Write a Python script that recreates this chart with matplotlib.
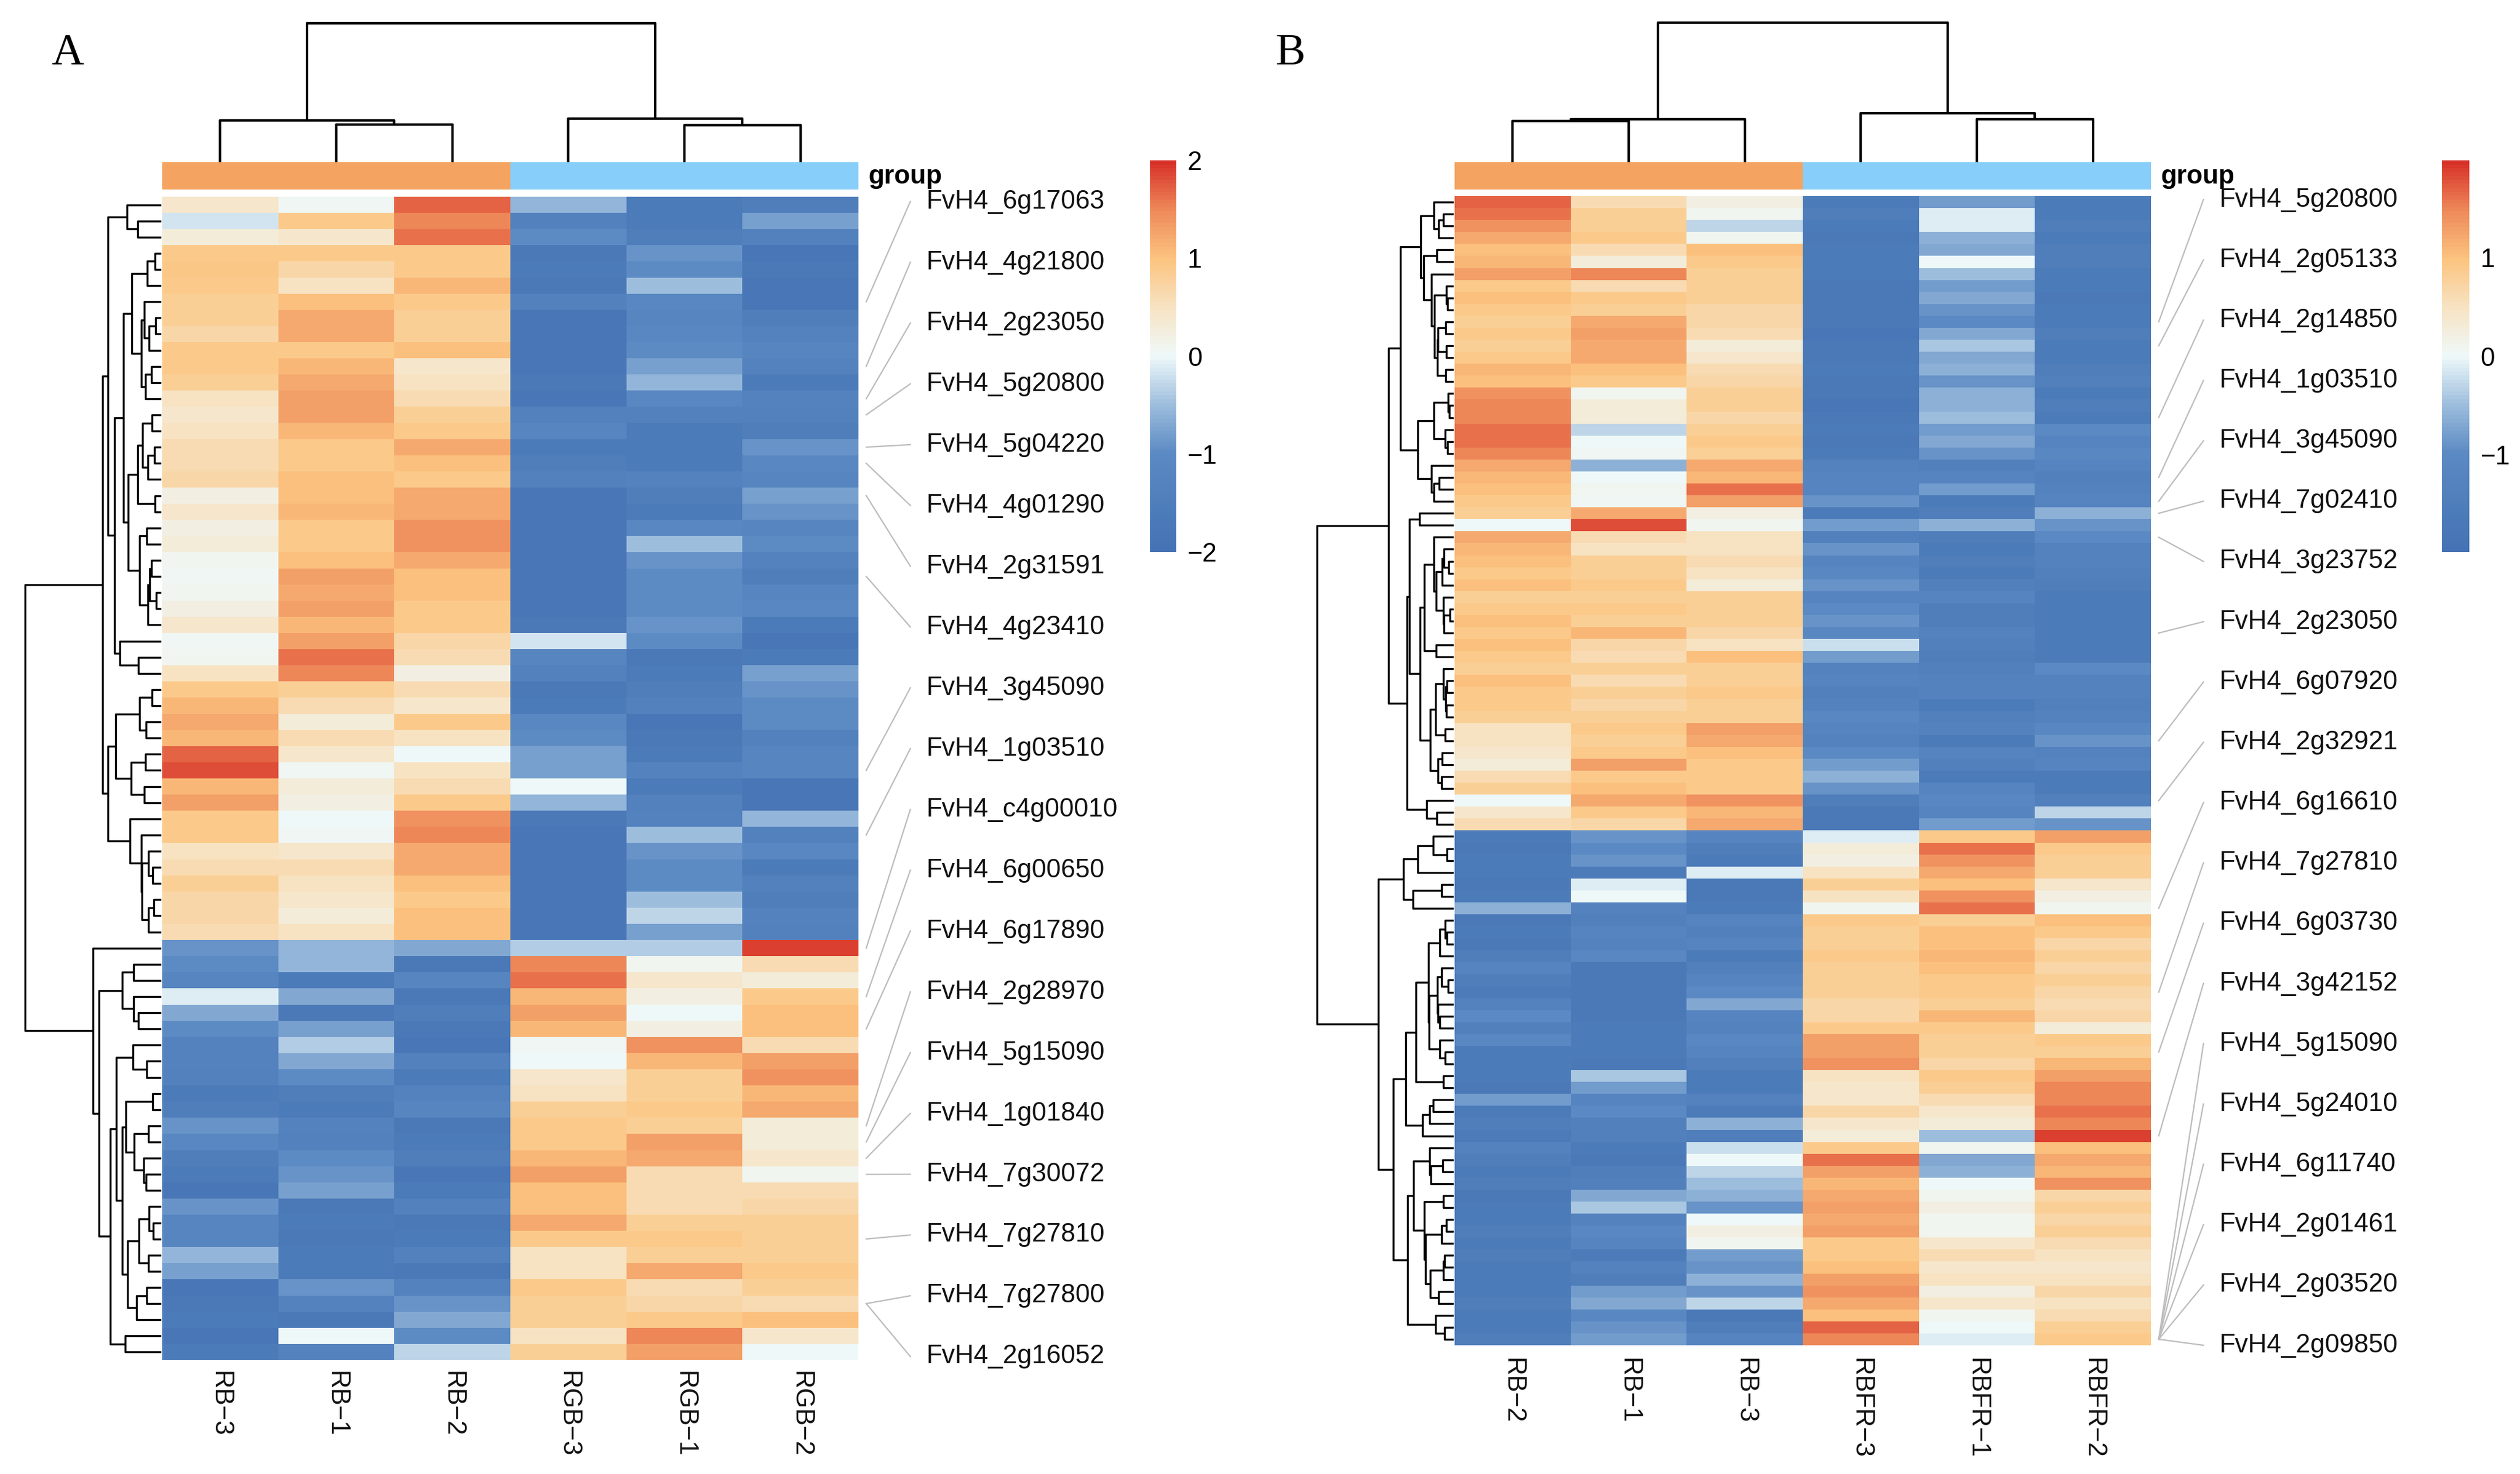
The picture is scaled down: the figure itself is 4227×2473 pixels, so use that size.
import numpy as np
import matplotlib
matplotlib.use('Agg')
import matplotlib.pyplot as plt
from matplotlib.colors import LinearSegmentedColormap, ListedColormap

plt.rcParams['font.family'] = ['Liberation Sans', 'DejaVu Sans']

W, H = 4227, 2473

# =========================
# DATA - panel A (rows top to bottom, as shown)
# =========================
a_samples = ['RB\u22123', 'RB\u22121', 'RB\u22122', 'RGB\u22123', 'RGB\u22121', 'RGB\u22122']
a_groups = [0, 0, 0, 1, 1, 1]

a_rb3 = [0.4, -0.2, 0.3, 0.9, 0.95, 0.9, 0.8, 0.8, 0.7, 0.9,
         0.9, 0.8, 0.5, 0.4, 0.5, 0.6, 0.6, 0.7, 0.2, 0.4,
         0.2, 0.3, 0.1, 0.05, 0.1, 0.2, 0.4, 0.05, 0.1, 0.5,
         0.9, 1.1, 1.2, 1.1, 1.7, 1.8, 1.1, 1.3, 0.9, 0.9,
         0.5, 0.6, 0.8, 0.7, 0.7, 0.6,
         -0.9, -1.0, -1.2, -0.1, -0.7, -1.0, -1.3, -1.3, -1.4, -1.6,
         -1.5, -0.9, -1.1, -1.5, -1.6, -1.8, -0.9, -1.2, -1.2, -0.6,
         -0.8, -1.8, -1.7, -1.6, -1.8, -1.6]
a_rb1 = [0.05, 0.9, 0.4, 0.9, 0.7, 0.5, 1.0, 1.2, 1.2, 0.9,
         1.1, 1.2, 1.3, 1.3, 1.1, 0.9, 0.9, 1.0, 1.0, 1.1,
         0.9, 0.9, 1.0, 1.3, 1.2, 1.3, 1.1, 1.3, 1.6, 1.5,
         0.8, 0.6, 0.3, 0.6, 0.4, 0.05, 0.3, 0.2, 0.0, 0.05,
         0.4, 0.6, 0.5, 0.4, 0.3, 0.5,
         -0.6, -0.6, -1.6, -0.7, -1.7, -0.8, -0.4, -0.7, -1.0, -1.5,
         -1.6, -1.3, -1.4, -1.0, -0.9, -0.8, -1.7, -1.6, -1.7, -1.6,
         -1.6, -0.9, -1.3, -1.7, 0.0, -1.3]
a_rb2 = [1.7, 1.5, 1.6, 0.9, 0.9, 1.1, 0.9, 0.8, 0.8, 1.0,
         0.4, 0.5, 0.6, 0.8, 0.9, 1.2, 1.0, 0.9, 1.2, 1.2,
         1.4, 1.4, 1.2, 1.0, 1.0, 0.9, 0.9, 0.7, 0.6, 0.2,
         0.6, 0.4, 0.9, 0.5, 0.0, 0.5, 0.6, 0.9, 1.4, 1.5,
         1.2, 1.2, 1.0, 0.9, 1.0, 1.0,
         -0.7, -1.7, -1.2, -1.7, -1.5, -1.7, -1.8, -1.4, -1.6, -1.3,
         -1.2, -1.7, -1.6, -1.5, -1.8, -1.6, -1.4, -1.7, -1.6, -1.4,
         -1.7, -1.3, -0.9, -0.7, -1.0, -0.3]
a_rgb3 = [-0.6, -1.4, -1.0, -1.7, -1.6, -1.7, -1.4, -1.8, -1.8, -1.8,
          -1.8, -1.7, -1.8, -1.4, -1.2, -1.6, -1.5, -1.4, -1.8, -1.8,
          -1.8, -1.8, -1.8, -1.8, -1.8, -1.8, -1.7, -0.2, -1.2, -1.4,
          -1.7, -1.6, -1.1, -1.0, -0.8, -0.8, 0.0, -0.6, -1.7, -1.8,
          -1.8, -1.8, -1.8, -1.8, -1.8, -1.8,
          -0.4, 1.5, 1.6, 1.1, 1.3, 1.1, 0.05, 0.0, 0.4, 0.5,
          0.8, 0.9, 0.9, 1.1, 1.3, 1.0, 1.0, 1.2, 0.9, 0.5,
          0.5, 0.9, 0.8, 0.8, 0.5, 0.8]
a_rgb1 = [-1.6, -1.6, -1.5, -0.9, -1.0, -0.5, -1.1, -1.2, -1.1, -1.0,
          -0.8, -0.6, -1.1, -1.4, -1.6, -1.6, -1.6, -1.3, -1.5, -1.6,
          -1.1, -0.5, -0.9, -1.0, -1.0, -1.0, -0.9, -1.0, -1.7, -1.6,
          -1.5, -1.4, -1.8, -1.7, -1.6, -1.3, -1.6, -1.4, -1.3, -0.5,
          -0.9, -1.0, -1.0, -0.5, -0.3, -0.8,
          -0.4, 0.1, 0.4, 0.2, 0.0, 0.2, 1.4, 1.1, 0.8, 0.8,
          0.9, 0.8, 1.3, 1.2, 0.6, 0.6, 0.6, 0.8, 0.9, 0.8,
          1.2, 0.6, 0.7, 0.9, 1.5, 1.3]
a_rgb2 = [-1.5, -0.8, -1.4, -1.8, -1.7, -1.8, -1.8, -1.5, -1.3, -1.2,
          -1.3, -1.6, -1.3, -1.4, -1.5, -0.9, -1.1, -1.2, -0.8, -0.9,
          -1.2, -1.0, -1.3, -1.5, -1.2, -1.1, -1.6, -1.8, -1.6, -0.8,
          -0.9, -1.0, -1.0, -1.4, -1.2, -1.2, -1.8, -1.8, -0.6, -1.4,
          -1.1, -1.6, -1.4, -1.5, -1.3, -1.4,
          1.9, 0.6, 0.3, 0.9, 1.0, 1.0, 0.6, 1.3, 1.4, 1.1,
          1.2, 0.3, 0.3, 0.4, 0.1, 0.6, 0.7, 0.8, 0.8, 0.8,
          0.9, 0.8, 0.6, 1.0, 0.4, 0.0]

a_genes = ['FvH4_6g17063', 'FvH4_4g21800', 'FvH4_2g23050', 'FvH4_5g20800',
           'FvH4_5g04220', 'FvH4_4g01290', 'FvH4_2g31591', 'FvH4_4g23410',
           'FvH4_3g45090', 'FvH4_1g03510', 'FvH4_c4g00010', 'FvH4_6g00650',
           'FvH4_6g17890', 'FvH4_2g28970', 'FvH4_5g15090', 'FvH4_1g01840',
           'FvH4_7g30072', 'FvH4_7g27810', 'FvH4_7g27800', 'FvH4_2g16052']
a_gene_rows = [6, 10, 12, 13, 15, 16, 18, 23, 35, 39,
               46, 49, 51, 57, 58, 59, 60, 64, 68, 68]

# =========================
# DATA - panel B
# =========================
b_samples = ['RB\u22122', 'RB\u22121', 'RB\u22123', 'RBFR\u22123', 'RBFR\u22121', 'RBFR\u22122']
b_groups = [0, 0, 0, 1, 1, 1]

b_rb2 = [1.7, 1.6, 1.4, 1.2, 1.0, 1.1, 1.3, 0.9, 1.0, 0.9,
         0.8, 0.9, 0.8, 0.9, 1.1, 1.0, 1.4, 1.5, 1.5, 1.6,
         1.6, 1.5, 1.2, 1.1, 1.0, 0.9, 0.8, 0.0, 1.2, 1.1,
         1.0, 0.9, 1.0, 0.8, 0.9, 1.0, 0.9, 1.0, 0.9, 0.8,
         1.0, 0.9, 0.9, 0.8, 0.5, 0.5, 0.4, 0.3, 0.6, 0.8,
         0.0, 0.4, 0.6, -1.6, -1.7, -1.6, -1.6, -1.7, -1.6, -0.6,
         -1.7, -1.6, -1.7, -1.5, -1.2, -1.5, -1.6, -1.3, -1.0, -1.4,
         -1.1, -1.6, -1.6, -1.6, -1.7, -0.8, -1.6, -1.5, -1.6, -1.3,
         -1.5, -1.6, -1.5, -1.7, -1.6, -1.6, -1.5, -1.6, -1.5, -1.6,
         -1.6, -1.6, -1.5, -1.6, -1.6, -1.5]
b_rb1 = [0.6, 0.8, 0.8, 0.9, 0.6, 0.3, 1.5, 0.6, 0.9, 0.8,
         1.2, 1.3, 1.2, 1.2, 1.0, 0.9, 0.1, 0.3, 0.3, -0.3,
         0.0, 0.05, -0.6, 0.0, 0.1, 0.05, 1.2, 1.8, 0.6, 0.5,
         0.8, 0.8, 0.9, 0.8, 0.9, 0.8, 1.1, 0.7, 0.6, 0.8,
         0.6, 0.8, 0.7, 0.8, 0.9, 0.8, 0.9, 1.3, 0.9, 1.0,
         1.2, 0.9, 0.7, -0.9, -1.0, -0.9, -1.6, -0.1, 0.0, -1.3,
         -1.4, -1.2, -1.3, -1.1, -1.7, -1.7, -1.7, -1.7, -1.7, -1.6,
         -1.6, -1.6, -1.7, -0.4, -0.8, -1.2, -1.0, -1.4, -1.4, -1.6,
         -1.7, -1.5, -1.4, -0.7, -0.4, -1.3, -1.1, -1.2, -1.6, -1.3,
         -1.5, -0.8, -0.7, -1.1, -0.9, -0.8]
b_rb3 = [0.2, 0.1, -0.3, 0.1, 1.0, 0.9, 0.8, 0.8, 0.8, 0.7,
         0.7, 0.6, 0.3, 0.4, 0.6, 0.7, 0.8, 0.8, 0.7, 0.8,
         0.9, 0.8, 1.2, 1.1, 1.6, 1.3, 0.2, 0.1, 0.5, 0.5,
         0.6, 0.5, 0.3, 0.8, 0.8, 0.8, 0.7, 0.5, 1.0, 0.8,
         0.8, 0.9, 0.8, 0.8, 1.3, 1.2, 1.0, 0.9, 0.9, 0.9,
         1.4, 1.1, 1.2, -1.2, -1.5, -1.6, -0.1, -1.7, -1.7, -1.6,
         -1.2, -1.4, -1.2, -1.6, -1.4, -1.2, -1.0, -0.7, -1.2, -1.3,
         -1.1, -1.2, -1.4, -1.6, -1.6, -1.3, -1.6, -0.6, -1.5, -0.2,
         0.0, -0.3, -0.5, -0.6, -0.9, 0.0, 0.2, 0.1, -0.8, -0.9,
         -0.6, -0.9, -0.3, -1.7, -1.5, -1.2]
b_rbfr3 = [-1.6, -1.5, -1.6, -1.7, -1.6, -1.6, -1.6, -1.7, -1.7, -1.7,
           -1.7, -1.8, -1.7, -1.7, -1.6, -1.7, -1.7, -1.8, -1.7, -1.6,
           -1.7, -1.6, -1.3, -1.2, -1.2, -0.9, -1.6, -0.8, -1.4, -0.9,
           -1.2, -1.1, -0.9, -1.2, -1.0, -0.9, -1.1, -0.2, -0.8, -1.3,
           -1.2, -1.4, -1.3, -1.1, -1.2, -1.3, -1.0, -0.8, -0.6, -0.9,
           -1.5, -1.7, -1.7, -0.1, 0.3, 0.2, 0.5, 0.8, 0.5, 0.1,
           0.9, 0.8, 0.8, 0.9, 0.8, 0.8, 0.8, 0.7, 0.7, 0.9,
           1.3, 1.3, 1.4, 0.5, 0.4, 0.4, 0.7, 0.4, 0.3, 0.9,
           1.6, 1.3, 1.1, 1.2, 1.3, 1.2, 1.3, 0.9, 0.9, 1.0,
           1.3, 1.4, 1.2, 1.0, 1.7, 1.5]
b_rbfr1 = [-0.8, -0.1, -0.1, -0.6, -0.7, 0.0, -0.5, -0.8, -0.7, -0.9,
           -1.0, -0.7, -0.4, -0.7, -0.6, -0.9, -0.6, -0.6, -0.5, -0.8,
           -0.7, -0.9, -1.4, -1.2, -0.8, -1.6, -1.5, -0.6, -1.5, -1.6,
           -1.5, -1.6, -1.4, -1.2, -1.5, -1.5, -1.3, -1.4, -1.5, -1.4,
           -1.3, -1.3, -1.6, -1.4, -1.3, -1.6, -1.2, -1.4, -1.6, -1.2,
           -1.1, -1.2, -0.8, 0.9, 1.6, 1.4, 1.2, 1.0, 1.4, 1.6,
           0.8, 1.0, 1.0, 1.1, 1.0, 0.9, 0.9, 0.8, 1.1, 0.9,
           0.8, 0.8, 0.7, 0.9, 0.8, 0.6, 0.4, 0.3, -0.5, 0.1,
           -0.7, -0.6, 0.0, 0.1, 0.2, 0.1, 0.1, 0.4, 0.6, 0.4,
           0.5, 0.2, 0.4, 0.1, 0.0, -0.1]
b_rbfr2 = [-1.6, -1.6, -1.5, -1.6, -1.5, -1.5, -1.6, -1.6, -1.7, -1.6,
           -1.6, -1.5, -1.6, -1.6, -1.5, -1.4, -1.6, -1.5, -1.6, -1.0,
           -1.2, -1.1, -1.2, -1.4, -1.3, -1.2, -0.6, -0.9, -1.0, -1.3,
           -1.3, -1.4, -1.5, -1.6, -1.6, -1.6, -1.6, -1.6, -1.6, -1.0,
           -1.3, -1.3, -1.4, -1.3, -1.1, -0.9, -1.3, -1.2, -1.6, -1.6,
           -1.4, -0.3, -0.9, 1.3, 0.9, 0.8, 0.8, 0.4, 0.2, 0.1,
           1.0, 0.9, 0.7, 0.8, 0.7, 0.8, 0.7, 0.6, 0.7, 0.3,
           0.9, 0.8, 1.1, 1.3, 1.5, 1.5, 1.6, 1.5, 1.9, 1.0,
           1.2, 1.1, 1.4, 0.7, 0.8, 0.7, 0.8, 0.6, 0.5, 0.4,
           0.5, 0.7, 0.5, 0.6, 0.8, 0.9]

b_genes = ['FvH4_5g20800', 'FvH4_2g05133', 'FvH4_2g14850', 'FvH4_1g03510',
           'FvH4_3g45090', 'FvH4_7g02410', 'FvH4_3g23752', 'FvH4_2g23050',
           'FvH4_6g07920', 'FvH4_2g32921', 'FvH4_6g16610', 'FvH4_7g27810',
           'FvH4_6g03730', 'FvH4_3g42152', 'FvH4_5g15090', 'FvH4_5g24010',
           'FvH4_6g11740', 'FvH4_2g01461', 'FvH4_2g03520', 'FvH4_2g09850']
b_gene_rows = [10, 12, 18, 23, 25, 26, 28, 36, 45, 50,
               59, 66, 71, 78, 95, 95, 95, 95, 95, 95]

# colour scale limits of each panel legend
a_range = (-2.0, 2.0)
b_range = (-1.98, 1.98)
a_ticks = [-2, -1, 0, 1, 2]
b_ticks = [-1, 0, 1]

# =========================
# STYLE
# =========================
heat_cmap = LinearSegmentedColormap.from_list('heat', [
    (0.0, '#4472B4'), (0.25, '#5B8AC3'), (0.375, '#9EBEDD'), (0.5, '#EEF9FA'),
    (0.625, '#F7E3C3'), (0.75, '#FCC47F'), (0.875, '#EE8A5A'), (1.0, '#D73027')], N=100)
group_cmap = ListedColormap(['#F4A460', '#87CEFA'])
FS = 10.5


def rect(x0, y0, x1, y1):
    return [x0 / W, 1 - y1 / H, (x1 - x0) / W, (y1 - y0) / H]


def ordered_tree(X):
    # complete linkage (euclidean), merging only neighbours so the shown order is kept
    X = np.asarray(X, dtype=float)
    n = len(X)
    dist = np.sqrt(((X[:, None, :] - X[None, :, :]) ** 2).sum(-1))
    members = [[i] for i in range(n)]
    pos = [i + 0.5 for i in range(n)]
    hts = [0.0] * n
    links = []
    while len(members) > 1:
        gaps = [dist[np.ix_(members[k], members[k + 1])].max() for k in range(len(members) - 1)]
        k = int(np.argmin(gaps))
        h = max(gaps[k], hts[k], hts[k + 1])
        links.append((pos[k], hts[k], pos[k + 1], hts[k + 1], h))
        members[k] = members[k] + members.pop(k + 1)
        pos[k] = (pos[k] + pos.pop(k + 1)) / 2
        hts[k] = h
        hts.pop(k + 1)
    return links, hts[0]


fig = plt.figure(figsize=(W / 300, H / 300), dpi=300)
ov = fig.add_axes([0, 0, 1, 1], zorder=5)
ov.set_xlim(0, W)
ov.set_ylim(H, 0)
ov.axis('off')


def panel(letter, letter_x, cols, samples, groups, genes, gene_rows, vrange, ticks,
          heat_box, tree_left, tree_top, cbar_box, lead_x0, lead_x1, text_x, lab_y, col_gap):
    data = np.column_stack(cols)
    n, m = data.shape
    hx0, hy0, hx1, hy1 = heat_box

    ax = fig.add_axes(rect(hx0, hy0, hx1, hy1))
    mesh = ax.pcolormesh(np.arange(m + 1), np.arange(n + 1), data, cmap=heat_cmap,
                         vmin=vrange[0], vmax=vrange[1], edgecolors='none', antialiased=False)
    ax.set_xlim(0, m)
    ax.set_ylim(n, 0)
    ax.axis('off')
    for j, s in enumerate(samples):
        ax.annotate(s, (j + 0.5, n), xytext=(0, -col_gap), textcoords='offset points',
                    rotation=-90, ha='center', va='top', fontsize=FS, color='#111111')

    # group annotation bar
    axg = fig.add_axes(rect(hx0, 272, hx1, 318))
    axg.pcolormesh(np.arange(m + 1), [0, 1], np.array([groups]), cmap=group_cmap,
                   vmin=0, vmax=1, edgecolors='none', antialiased=False)
    axg.set_xlim(0, m)
    axg.axis('off')
    ov.text(hx1 + 16, 296, 'group', fontsize=FS, fontweight='bold', ha='left', va='center')

    # column dendrogram
    links, top = ordered_tree(data.T)
    axc = fig.add_axes(rect(hx0, tree_top, hx1, 272))
    for xa, ha, xb, hb, h in links:
        axc.plot([xa, xa, xb, xb], [ha, h, h, hb], color='black', lw=1.0,
                 solid_capstyle='butt', clip_on=False)
    axc.set_xlim(0, m)
    axc.set_ylim(0, top)
    axc.axis('off')

    # row dendrogram
    links, top = ordered_tree(data)
    axr = fig.add_axes(rect(tree_left, hy0, hx0 - 2, hy1))
    for xa, ha, xb, hb, h in links:
        axr.plot([ha, h, h, hb], [xa, xa, xb, xb], color='black', lw=0.8,
                 solid_capstyle='butt', clip_on=False)
    axr.set_xlim(top, 0)
    axr.set_ylim(n, 0)
    axr.axis('off')

    # legend
    cax = fig.add_axes(rect(*cbar_box))
    cb = fig.colorbar(mesh, cax=cax, ticks=ticks)
    cb.outline.set_visible(False)
    cax.tick_params(length=0, pad=4.5, labelsize=FS)

    # gene labels with leader lines
    fig.canvas.draw()
    to_ov = ov.transData.inverted()
    ys = np.linspace(lab_y[0], lab_y[1], len(genes))
    for g, r, y in zip(genes, gene_rows, ys):
        _, yr = to_ov.transform(ax.transData.transform((m, r + 0.5)))
        ov.plot([lead_x0, lead_x1], [yr, y], color='#BDBDBD', lw=0.55)
        ov.text(text_x, y, g, fontsize=FS, ha='left', va='center', color='#111111')

    ov.text(letter_x, 90, letter, fontsize=18, family='Liberation Serif',
            ha='left', va='center')


panel('A', 86, [a_rb3, a_rb1, a_rb2, a_rgb3, a_rgb1, a_rgb2], a_samples, a_groups,
      a_genes, a_gene_rows, a_range, a_ticks,
      heat_box=(272, 330, 1440, 2282), tree_left=42, tree_top=39,
      cbar_box=(1929, 269, 1973, 926), lead_x0=1453, lead_x1=1527, text_x=1553,
      lab_y=(338, 2276), col_gap=4.3)

panel('B', 2140, [b_rb2, b_rb1, b_rb3, b_rbfr3, b_rbfr1, b_rbfr2], b_samples, b_groups,
      b_genes, b_gene_rows, b_range, b_ticks,
      heat_box=(2440, 329, 3608, 2257), tree_left=2209, tree_top=38,
      cbar_box=(4096, 269, 4142, 926), lead_x0=3621, lead_x1=3696, text_x=3722,
      lab_y=(335, 2257), col_gap=5.0)

fig.savefig('out.png', dpi=300)
